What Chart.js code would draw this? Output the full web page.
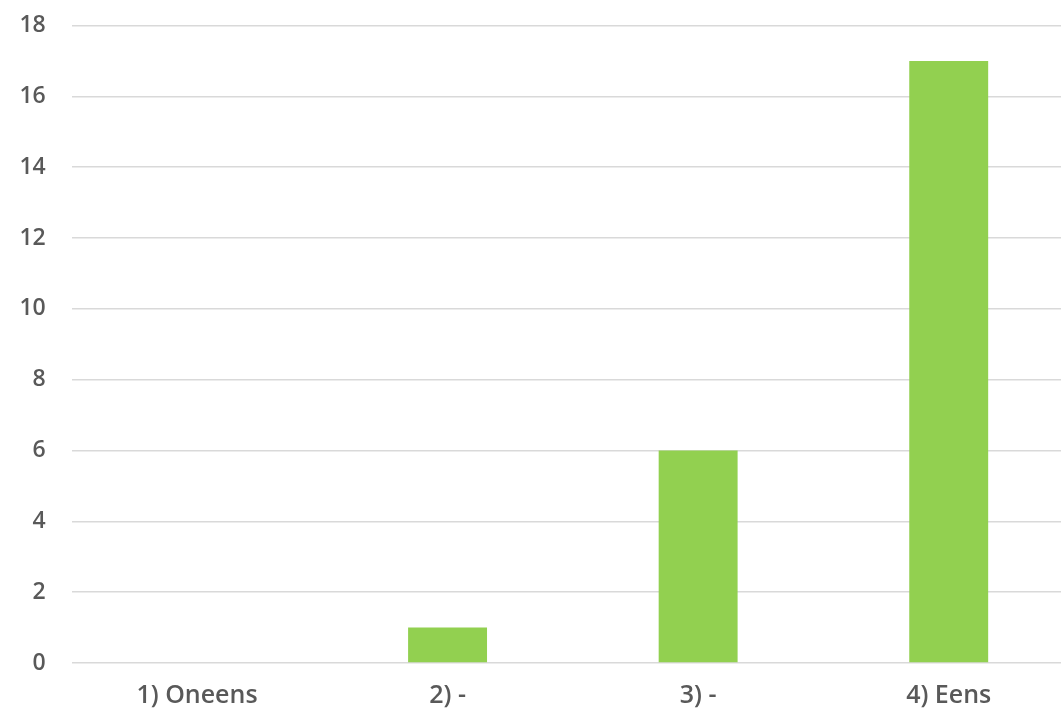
<!DOCTYPE html>
<html>
<head>
<meta charset="utf-8">
<script src="https://cdn.jsdelivr.net/npm/chart.js@4/dist/chart.umd.min.js"></script>
<style>
  html, body { margin: 0; padding: 0; background: #ffffff; overflow: hidden; }
  #wrap { position: relative; width: 1074px; height: 712px; }
</style>
</head>
<body>
<div id="wrap"><canvas id="chart"></canvas></div>
<script>
// Answer categories and response counts
const categories = ["1) Oneens", "2) -", "3) -", "4) Eens"];
const counts = [0, 1, 6, 17];
const yMax = 18;
const yStep = 2;

const textColor = "#595959";
const gridColor = "#d9d9d9";
const barColor = "#92d050";

new Chart(document.getElementById("chart"), {
  type: "bar",
  data: {
    labels: categories,
    datasets: [{
      data: counts,
      backgroundColor: barColor,
      borderWidth: 0,
      categoryPercentage: 1,
      barPercentage: 0.315
    }]
  },
  options: {
    responsive: true,
    maintainAspectRatio: false,
    animation: false,
    layout: { padding: { top: 25.5, right: 0, bottom: 0, left: 19 } },
    plugins: { legend: { display: false }, tooltip: { enabled: false } },
    scales: {
      x: {
        grid: { display: false, drawTicks: false },
        border: { display: false },
        ticks: {
          color: textColor,
          padding: 18,
          font: { family: "Open Sans", size: 25, weight: 600 }
        },
        afterFit(scale) {
          scale.height = 49;
        }
      },
      y: {
        min: 0,
        max: yMax,
        grid: { color: gridColor, lineWidth: 1.5, drawTicks: false },
        border: { display: false },
        ticks: {
          stepSize: yStep,
          color: textColor,
          padding: 26,
          font: { family: "Open Sans", size: 23, weight: 600 }
        },
        afterFit(scale) {
          scale.width = 52.7;
          scale.paddingTop = 0;
          scale.paddingBottom = 0;
        }
      }
    }
  }
});
</script>
</body>
</html>
